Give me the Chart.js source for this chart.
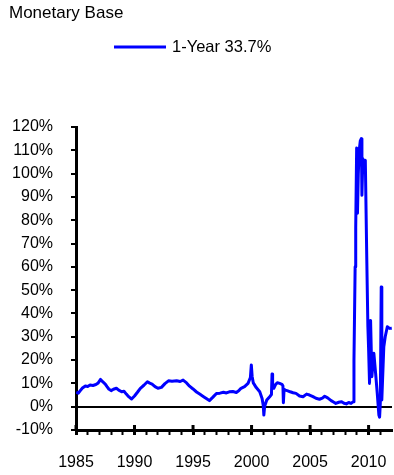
<!DOCTYPE html>
<html>
<head>
<meta charset="utf-8">
<script src="https://cdn.jsdelivr.net/npm/chart.js@4/dist/chart.umd.min.js"></script>
<style>
  html, body { margin: 0; padding: 0; background: #fff; }
  #wrap { width: 394px; height: 475px; }
</style>
</head>
<body>
<div id="wrap"><canvas id="c" width="394" height="475"></canvas></div>
<script>
const chartTitle = 'Monetary Base';
const seriesLabel = '1-Year 33.7%';

const dates = [
  1985.02,1985.2,1985.35,1985.55,1985.8,1986.0,1986.2,1986.45,1986.7,1986.9,
  1987.1,1987.3,1987.5,1987.65,1987.8,1988.0,1988.2,1988.45,1988.65,1988.9,
  1989.1,1989.3,1989.5,1989.75,1990.0,1990.25,1990.5,1990.8,1991.1,1991.3,
  1991.5,1991.75,1992.0,1992.3,1992.6,1992.9,1993.2,1993.6,1993.9,1994.15,
  1994.45,1994.7,1995.0,1995.3,1995.6,1995.9,1996.2,1996.4,1996.7,1997.0,
  1997.3,1997.6,1997.85,1998.1,1998.4,1998.7,1998.9,1999.1,1999.4,1999.7,
  1999.9,1999.98,2000.05,2000.15,2000.4,2000.7,2000.9,2001.0,2001.05,2001.12,
  2001.3,2001.55,2001.7,2001.75,2001.8,2001.9,2002.05,2002.2,2002.4,2002.6,
  2002.68,2002.72,2002.78,2002.9,2003.1,2003.3,2003.55,2003.8,2004.1,2004.4,
  2004.7,2004.95,2005.25,2005.5,2005.8,2006.05,2006.25,2006.5,2006.8,2007.0,
  2007.2,2007.45,2007.7,2007.9,2008.1,2008.3,2008.5,2008.67,2008.75,2008.85,
  2008.9,2008.98,2009.01,2009.05,2009.12,2009.2,2009.29,2009.38,2009.43,2009.51,
  2009.6,2009.72,2009.84,2009.94,2010.0,2010.08,2010.17,2010.28,2010.45,2010.6,
  2010.74,2010.88,2010.94,2011.0,2011.08,2011.13,2011.3,2011.42,2011.6,2011.79,
  2011.98
];
const growth = [
  6.2,5.8,6.8,8.0,8.9,8.7,9.3,9.1,9.5,10.2,
  11.7,10.6,9.7,8.6,7.6,6.9,7.5,7.9,7.1,6.4,
  6.6,5.4,4.3,3.3,4.6,6.2,7.9,9.2,10.7,10.1,
  9.7,8.6,7.9,8.3,9.9,11.1,10.9,11.1,10.8,11.4,
  10.2,8.8,7.6,6.3,5.3,4.3,3.3,2.6,4.1,5.7,
  5.8,6.2,5.9,6.4,6.5,6.1,6.8,7.9,8.6,10.0,
  12.5,17.9,13.0,10.2,8.2,6.4,3.5,0.5,-3.6,0.2,
  2.9,4.3,5.2,14.0,9.0,7.9,9.5,10.3,10.0,9.6,
  9.0,1.7,7.5,7.1,6.8,6.4,6.0,5.7,4.6,4.3,
  5.4,5.0,4.3,3.6,3.2,3.7,4.5,3.8,2.6,2.0,
  1.4,1.9,2.1,1.5,1.2,1.8,1.4,2.1,20,60,
  77,111,100,83,100,110,114,115,90.7,106.4,
  104,105.7,65,34.3,25,10,37,12.9,22.9,14.3,
  5.7,-3.6,-4.5,1.4,51.4,2.9,25.7,30,34.3,33.6,
  33.7
];

const tickYears = [1985,1986,1987,1988,1989,1990,1991,1992,1993,1994,1995,1996,1997,1998,1999,
                   2000,2001,2002,2003,2004,2005,2006,2007,2008,2009,2010,2011];
const labelYears = [1985,1990,1995,2000,2005,2010];
const yMin = -10, yMax = 120, yStep = 10;

const FONT = '"Liberation Sans", Arial, sans-serif';

const points = dates.map((d, i) => ({ x: d, y: growth[i] }));

const extrasPlugin = {
  id: 'extras',
  afterDraw(chart) {
    const ctx = chart.ctx;
    const xs = chart.scales.x;
    ctx.save();
    ctx.strokeStyle = '#000';
    ctx.lineWidth = 3;
    labelYears.forEach(v => {
      const px = xs.getPixelForValue(v);
      ctx.beginPath();
      ctx.moveTo(px, xs.top - 5);
      ctx.lineTo(px, xs.top);
      ctx.stroke();
    });
    const ds = chart.data.datasets[0];
    ctx.strokeStyle = ds.borderColor;
    ctx.lineWidth = 3;
    ctx.beginPath();
    ctx.moveTo(114, 47);
    ctx.lineTo(166, 47);
    ctx.stroke();
    ctx.fillStyle = '#000';
    ctx.font = '16.5px ' + FONT;
    ctx.textBaseline = 'middle';
    ctx.textAlign = 'left';
    ctx.fillText(ds.label, 172, 47);
    ctx.restore();
  }
};

new Chart(document.getElementById('c'), {
  type: 'line',
  data: {
    datasets: [{
      label: seriesLabel,
      data: points,
      borderColor: '#0000FF',
      backgroundColor: '#0000FF',
      borderWidth: 3,
      pointRadius: 0,
      pointBorderWidth: 0,
      pointHoverRadius: 0,
      tension: 0,
      borderJoinStyle: 'round',
      fill: false
    }]
  },
  options: {
    responsive: false,
    animation: false,
    events: [],
    layout: { autoPadding: false, padding: { left: 9, right: 2, top: 0, bottom: 3 } },
    plugins: {
      legend: { display: false },
      tooltip: { enabled: false },
      title: {
        display: true,
        text: chartTitle,
        align: 'start',
        color: '#000',
        font: { family: FONT, size: 17, weight: 'normal', lineHeight: 1.2 },
        padding: { top: 3.3, bottom: 103.3 }
      }
    },
    scales: {
      x: {
        type: 'linear',
        min: 1985,
        max: 2012,
        afterBuildTicks: (scale) => { scale.ticks = tickYears.map(v => ({ value: v })); },
        afterFit: (scale) => { scale.paddingLeft = 0; scale.paddingRight = 0; scale.height = 42; },
        ticks: {
          autoSkip: false,
          maxRotation: 0,
          padding: 18,
          color: '#000',
          font: { family: FONT, size: 16 },
          callback: (v) => labelYears.includes(v) ? String(v) : ''
        },
        grid: {
          drawOnChartArea: false,
          drawTicks: true,
          tickLength: 5,
          tickColor: '#000',
          tickWidth: (ctx) => (ctx.tick && labelYears.includes(ctx.tick.value)) ? 3 : 2
        },
        border: { display: true, color: '#000', width: 3 }
      },
      y: {
        min: yMin,
        max: yMax,
        afterFit: (scale) => { scale.width = 67; },
        ticks: {
          stepSize: yStep,
          autoSkip: false,
          padding: 18,
          color: '#000',
          font: { family: FONT, size: 16 },
          callback: (v) => v + '%'
        },
        grid: {
          drawOnChartArea: true,
          drawTicks: true,
          tickLength: 5,
          tickColor: '#000',
          tickWidth: 2,
          color: (ctx) => (ctx.tick && ctx.tick.value === 0) ? '#000' : 'rgba(0,0,0,0)',
          lineWidth: 2
        },
        border: { display: true, color: '#000', width: 3 }
      }
    }
  },
  plugins: [extrasPlugin]
});
</script>
</body>
</html>
